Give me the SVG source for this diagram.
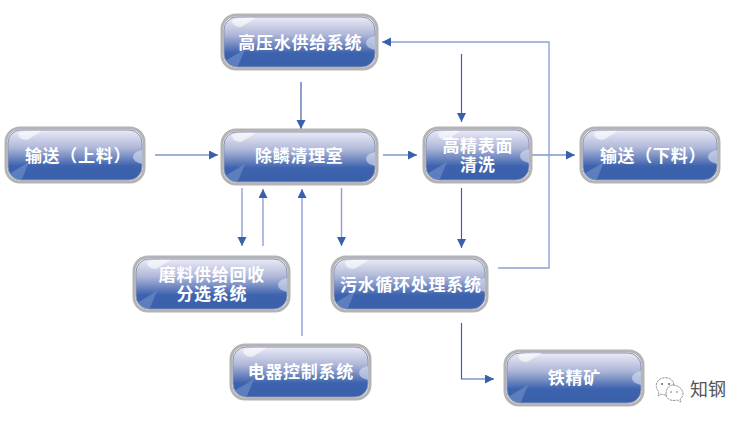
<svg xmlns="http://www.w3.org/2000/svg" width="749" height="422" viewBox="0 0 749 422">
<style>
text{font-family:"Noto Sans CJK SC","Noto Sans",sans-serif}
.halo{fill:none;stroke:#b4b4b4;stroke-width:3;filter:url(#b)}
.box{fill:url(#g);stroke:#8a93b4;stroke-width:1}
.edge{fill:none;stroke:#3f62ae;stroke-width:1.2}
.pale{fill:none;stroke:#8fa0d8;stroke-width:1.4}
.sh{fill:#fff;opacity:.6}
.wd{fill:#7f9ccf;opacity:.5}
.rs{fill:#dbe2f1;opacity:.6}
.t{fill:#fff;font-size:17px;font-weight:700;letter-spacing:.7px;text-anchor:middle}
.wm{fill:none;stroke:#777;stroke-width:.8;stroke-dasharray:2.5 .8}
</style>
<defs>
<filter id="b" x="-5%" y="-10%" width="110%" height="120%"><feGaussianBlur stdDeviation=".6"/></filter>
<linearGradient id="g" x1="0" y1="0" x2="0" y2="1">
<stop offset="0" stop-color="#ebebf6"/>
<stop offset=".35" stop-color="#b0b8d9"/>
<stop offset=".72" stop-color="#3d63ae"/>
<stop offset="1" stop-color="#3a60ac"/>
</linearGradient>
<marker id="a" markerWidth="10" markerHeight="10" refX="9" refY="4.500" orient="auto" markerUnits="userSpaceOnUse">
<path d="M0 0L9 4.500L0 9Z" fill="#3a60ac"/>
</marker>
</defs>
<g id="connectors">
<path class="edge" d="M301 82V129" marker-end="url(#a)"/>
<path class="edge" d="M155 155H218" marker-end="url(#a)"/>
<path class="edge" d="M383 155H417" marker-end="url(#a)"/>
<path class="edge" d="M461.500 54V122" marker-end="url(#a)"/>
<path class="edge" d="M530 155H575" marker-end="url(#a)"/>
<path class="pale" d="M498 268H549V42H382" marker-end="url(#a)"/>
<path class="edge" d="M461.500 188V248" marker-end="url(#a)"/>
<path class="edge" d="M461.500 323V379H494" marker-end="url(#a)"/>
<path class="pale" d="M242 188V246" marker-end="url(#a)"/>
<path class="pale" d="M263 246V189" marker-end="url(#a)"/>
<path class="pale" d="M302 336V189" marker-end="url(#a)"/>
<path class="pale" d="M341.500 188V246" marker-end="url(#a)"/>
</g>
<g id="n-highpressure">
<rect class="halo" x="222" y="15" width="155" height="54" rx="14"/>
<rect class="box" x="224" y="17" width="151" height="50" rx="13"/>
<path class="sh" d="M232 20Q240 17 256 18L241 27Q232 27 232 20Z"/>
<path class="wd" d="M225 61L245 49L238 66H231Z"/>
<path class="rs" d="M375 36Q366 38 366 43Q366 48 375 50Z"/>
<text class="t" x="300.300" y="49">高压水供给系统</text>
</g>
<g id="n-feed">
<rect class="halo" x="6" y="128" width="138" height="54" rx="14"/>
<rect class="box" x="8" y="130" width="134" height="50" rx="13"/>
<path class="sh" d="M18 133Q26 130 42 131L27 140Q18 140 18 133Z"/>
<path class="wd" d="M9 174L29 162L22 179H15Z"/>
<path class="rs" d="M142 150Q133 152 133 157Q133 162 142 164Z"/>
<text class="t" x="78" y="162">输送（上料）</text>
</g>
<g id="n-descale">
<rect class="halo" x="222" y="130" width="155" height="54" rx="14"/>
<rect class="box" x="224" y="132" width="151" height="50" rx="13"/>
<path class="sh" d="M232 135Q240 132 256 133L241 142Q232 142 232 135Z"/>
<path class="wd" d="M225 176L245 164L238 181H231Z"/>
<path class="rs" d="M375 152Q366 154 366 159Q366 164 375 166Z"/>
<text class="t" x="299.300" y="162">除鳞清理室</text>
</g>
<g id="n-clean">
<rect class="halo" x="424" y="128" width="107" height="54" rx="14"/>
<rect class="box" x="426" y="130" width="103" height="50" rx="13"/>
<path class="sh" d="M438 133Q446 130 460 131L447 140Q438 140 438 133Z"/>
<path class="wd" d="M427 174L447 162L440 179H433Z"/>
<path class="rs" d="M529 149Q520 151 520 156Q520 161 529 163Z"/>
<text class="t"><tspan x="477.800" y="152">高精表面</tspan><tspan x="477.800" y="171">清洗</tspan></text>
</g>
<g id="n-discharge">
<rect class="halo" x="581" y="128" width="138" height="54" rx="14"/>
<rect class="box" x="583" y="130" width="134" height="50" rx="13"/>
<path class="sh" d="M594 133Q602 130 618 131L603 140Q594 140 594 133Z"/>
<path class="wd" d="M584 174L604 162L597 179H590Z"/>
<path class="rs" d="M717 150Q708 152 708 157Q708 162 717 164Z"/>
<text class="t" x="653" y="162">输送（下料）</text>
</g>
<g id="n-abrasive">
<rect class="halo" x="134" y="257" width="155" height="54" rx="14"/>
<rect class="box" x="136" y="259" width="151" height="50" rx="13"/>
<path class="sh" d="M147 262Q155 259 171 260L156 269Q147 269 147 262Z"/>
<path class="wd" d="M137 303L157 291L150 308H143Z"/>
<path class="rs" d="M287 278Q278 280 278 285Q278 290 287 292Z"/>
<text class="t"><tspan x="211.800" y="281">磨料供给回收</tspan><tspan x="211.800" y="299.500">分选系统</tspan></text>
</g>
<g id="n-water">
<rect class="halo" x="332" y="257" width="155" height="54" rx="14"/>
<rect class="box" x="334" y="259" width="151" height="50" rx="13"/>
<path class="sh" d="M345 262Q353 259 369 260L354 269Q345 269 345 262Z"/>
<path class="wd" d="M335 303L355 291L348 308H341Z"/>
<path class="rs" d="M485 278Q476 280 476 285Q476 290 485 292Z"/>
<text class="t" x="410.800" y="291">污水循环处理系统</text>
</g>
<g id="n-electric">
<rect class="halo" x="231" y="345" width="139" height="54" rx="14"/>
<rect class="box" x="233" y="347" width="135" height="50" rx="13"/>
<path class="sh" d="M243 350Q251 347 267 348L252 357Q243 357 243 350Z"/>
<path class="wd" d="M234 391L254 379L247 396H240Z"/>
<path class="rs" d="M368 366Q359 368 359 373Q359 378 368 380Z"/>
<text class="t" x="300.800" y="378">电器控制系统</text>
</g>
<g id="n-concentrate">
<rect class="halo" x="505" y="351" width="138" height="54" rx="14"/>
<rect class="box" x="507" y="353" width="134" height="50" rx="13"/>
<path class="sh" d="M518 355Q526 352 542 353L527 362Q518 362 518 355Z"/>
<path class="wd" d="M508 397L528 385L521 402H514Z"/>
<path class="rs" d="M641 371Q632 373 632 378Q632 383 641 385Z"/>
<text class="t" x="574.300" y="384">铁精矿</text>
</g>
<g id="watermark">
<path class="wm" d="M674 385C673 378 667 377 663 378C657 379 655 385 657 389L659 392L658 396L662 394C664 395 666 395 667 395"/>
<path class="wm" d="M673 385C678 385 683 389 683 394C683 397 681 398 680 399L681 402L677 400C670 402 666 398 666 394C666 389 669 385 673 385Z"/>
<circle cx="662" cy="384" r="1" fill="#666"/><circle cx="669" cy="384" r="1" fill="#666"/>
<circle cx="671" cy="392" r=".8" fill="#666"/><circle cx="677" cy="392" r=".8" fill="#666"/>
<text x="690" y="396" font-size="18" fill="#555">知钢</text>
</g>
</svg>
